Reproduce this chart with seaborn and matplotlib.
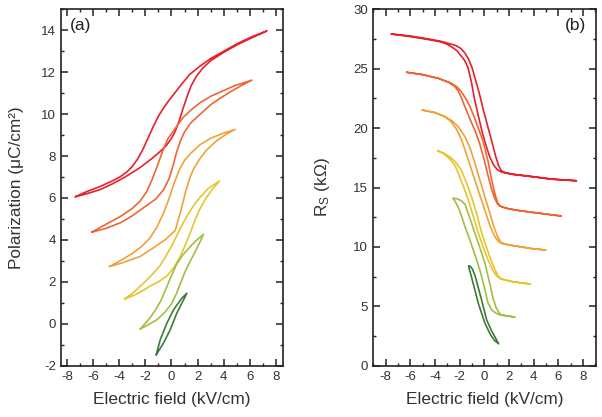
import numpy as np
import pandas as pd
import matplotlib
matplotlib.use('Agg')
import matplotlib.pyplot as plt
import seaborn as sns
from matplotlib.ticker import MultipleLocator

# ========== DATOS ==========
# colores de los lazos (de mayor a menor campo)
colores = ['#e8202c', '#ee6633', '#f0a23a', '#e6c52e', '#9fbf45', '#3e7b38']

# (a) Polarizacion: rama superior y rama inferior de cada lazo
pa_E_sup = [
    [-7.35, -6.5, -5.45, -4.5, -3.9, -3.4, -3.0, -2.6, -2.2, -1.8, -1.4, -1.0, -0.6, -0.2, 0.3, 0.8, 1.4, 2.2, 3.0, 4.0, 5.0, 6.0, 7.3],
    [-6.1, -5.0, -3.9, -3.0, -2.4, -1.9, -1.5, -1.1, -0.7, -0.3, 0.2, 0.9, 1.5, 2.2, 3.0, 3.9, 4.8, 6.15],
    [-4.74, -3.8, -3.0, -2.3, -1.7, -1.12, -0.6, -0.2, 0.2, 0.6, 1.0, 1.5, 2.2, 3.0, 4.0, 4.87],
    [-3.59, -3.0, -2.4, -1.9, -1.4, -0.9, -0.45, 0.0, 0.4, 0.8, 1.2, 1.7, 2.2, 2.8, 3.67],
    [-2.39, -2.0, -1.6, -1.2, -0.8, -0.4, 0.0, 0.4, 0.85, 1.4, 1.9, 2.45],
    [-1.17, -0.86, -0.35, 0.16, 0.79, 1.18],
]
pa_P_sup = [
    [6.06, 6.3, 6.55, 6.82, 7.02, 7.25, 7.5, 7.85, 8.3, 8.85, 9.4, 9.9, 10.3, 10.65, 11.05, 11.45, 11.9, 12.3, 12.65, 13.0, 13.35, 13.65, 13.97],
    [4.37, 4.75, 5.12, 5.5, 5.85, 6.3, 6.85, 7.5, 8.2, 8.8, 9.25, 9.85, 10.2, 10.55, 10.85, 11.1, 11.35, 11.62],
    [2.73, 3.05, 3.35, 3.68, 4.05, 4.6, 5.3, 5.95, 6.7, 7.35, 7.8, 8.15, 8.55, 8.85, 9.1, 9.27],
    [1.18, 1.45, 1.78, 2.08, 2.4, 2.75, 3.2, 3.7, 4.2, 4.7, 5.15, 5.65, 6.05, 6.45, 6.81],
    [-0.25, 0.02, 0.32, 0.68, 1.12, 1.7, 2.3, 2.85, 3.27, 3.66, 3.98, 4.27],
    [-1.48, -0.76, 0.03, 0.67, 1.22, 1.46],
]
pa_E_inf = [
    [-7.35, -6.5, -5.45, -4.5, -3.5, -2.4, -1.5, -0.9, -0.4, 0.0, 0.3, 0.6, 0.9, 1.2, 1.5, 1.9, 2.4, 3.0, 4.0, 5.0, 6.0, 7.3],
    [-6.1, -5.0, -3.9, -3.0, -2.0, -1.2, -0.6, -0.2, 0.1, 0.4, 0.7, 1.0, 1.5, 2.2, 3.0, 3.7, 4.5, 5.3, 6.15],
    [-4.74, -3.8, -2.4, -1.2, -0.4, 0.28, 0.7, 1.1, 1.4, 1.7, 2.2, 2.7, 3.5, 4.2, 4.87],
    [-3.59, -2.8, -2.2, -1.63, -1.0, -0.35, 0.2, 0.66, 1.05, 1.43, 1.8, 2.19, 2.6, 3.1, 3.67],
    [-2.39, -1.8, -1.12, -0.5, 0.0, 0.35, 0.7, 1.05, 1.4, 1.7, 2.1, 2.45],
    [-1.17, -0.61, -0.1, 0.41, 0.92, 1.18],
]
pa_P_inf = [
    [6.06, 6.2, 6.4, 6.68, 7.02, 7.45, 7.88, 8.2, 8.5, 8.85, 9.2, 9.7, 10.3, 10.85, 11.35, 11.8, 12.2, 12.55, 12.95, 13.3, 13.6, 13.97],
    [4.37, 4.55, 4.82, 5.15, 5.6, 5.95, 6.4, 6.9, 7.5, 8.2, 8.75, 9.15, 9.6, 10.0, 10.45, 10.75, 11.06, 11.35, 11.62],
    [2.73, 2.9, 3.21, 3.7, 4.05, 4.45, 5.35, 6.35, 6.95, 7.4, 7.9, 8.3, 8.75, 9.05, 9.27],
    [1.18, 1.38, 1.58, 1.8, 2.0, 2.28, 2.7, 3.2, 3.75, 4.32, 4.95, 5.5, 5.95, 6.4, 6.81],
    [-0.25, -0.05, 0.19, 0.55, 0.95, 1.4, 1.95, 2.5, 2.95, 3.3, 3.8, 4.27],
    [-1.48, -0.92, -0.29, 0.51, 1.14, 1.46],
]

# (b) Resistencia Rs: rama derecha y rama izquierda de cada lazo
rb_E_der = [
    [-7.54, -6.0, -4.5, -3.5, -2.8, -2.3, -1.9, -1.6, -1.3, -1.0, -0.7, -0.4, -0.1, 0.29, 0.6, 0.9, 1.15, 1.38, 1.7, 2.3, 4.0, 5.5, 7.46],
    [-6.3, -5.0, -3.73, -2.65, -2.2, -1.9, -1.57, -1.2, -0.85, -0.49, -0.1, 0.3, 0.6, 0.85, 1.05, 1.24, 1.6, 2.0, 2.86, 4.49, 6.24],
    [-5.03, -4.0, -3.19, -2.6, -2.1, -1.57, -1.15, -0.76, -0.35, 0.05, 0.43, 0.8, 1.1, 1.38, 1.8, 2.86, 3.9, 4.97],
    [-3.79, -3.2, -2.7, -2.3, -1.84, -1.45, -1.03, -0.6, -0.2, 0.16, 0.5, 0.85, 1.1, 1.38, 1.8, 2.32, 3.0, 3.73],
    [-2.52, -2.2, -1.9, -1.57, -1.2, -0.76, -0.35, 0.05, 0.4, 0.7, 0.95, 1.2, 1.38, 1.9, 2.46],
    [-1.25, -1.12, -0.95, -0.76, -0.5, -0.22, 0.19, 0.6, 0.9, 1.16],
]
rb_R_der = [
    [27.92, 27.75, 27.5, 27.3, 27.1, 26.95, 26.7, 26.35, 25.85, 25.1, 24.0, 22.9, 21.6, 20.1, 18.9, 17.7, 16.85, 16.4, 16.25, 16.12, 15.9, 15.7, 15.57],
    [24.7, 24.5, 24.19, 23.77, 23.45, 23.1, 22.6, 21.9, 21.0, 20.0, 18.9, 17.2, 15.6, 14.5, 13.8, 13.45, 13.3, 13.2, 13.05, 12.83, 12.6],
    [21.52, 21.3, 20.96, 20.6, 20.1, 19.28, 18.3, 17.04, 15.6, 14.2, 12.9, 11.6, 10.8, 10.35, 10.2, 10.02, 9.85, 9.74],
    [18.1, 17.85, 17.5, 17.1, 16.4, 15.4, 14.2, 12.7, 11.1, 10.0, 9.0, 8.1, 7.6, 7.3, 7.2, 7.07, 6.97, 6.88],
    [14.09, 14.05, 13.9, 13.6, 12.5, 11.14, 9.9, 8.62, 7.1, 5.7, 4.9, 4.45, 4.27, 4.18, 4.1],
    [8.39, 8.35, 8.1, 7.6, 6.6, 5.53, 3.85, 2.9, 2.35, 1.84],
]
rb_E_izq = [
    [-7.54, -6.0, -4.5, -3.5, -3.0, -2.6, -2.2, -1.9, -1.6, -1.33, -1.05, -0.79, -0.5, -0.16, 0.15, 0.43, 0.75, 1.05, 1.38, 2.3, 4.0, 5.5, 7.46],
    [-6.3, -5.0, -3.73, -2.9, -2.4, -2.1, -1.84, -1.5, -1.1, -0.76, -0.38, 0.0, 0.3, 0.55, 0.8, 1.05, 1.24, 2.0, 2.86, 4.49, 6.24],
    [-5.03, -4.0, -3.19, -2.7, -2.25, -1.84, -1.45, -1.03, -0.6, -0.22, 0.1, 0.45, 0.8, 1.1, 1.38, 2.1, 2.86, 3.9, 4.97],
    [-3.79, -3.3, -2.8, -2.4, -2.11, -1.7, -1.3, -0.9, -0.5, -0.1, 0.3, 0.7, 1.0, 1.3, 1.8, 2.32, 3.0, 3.73],
    [-2.52, -2.35, -2.15, -1.98, -1.6, -1.17, -0.75, -0.36, 0.0, 0.29, 0.6, 0.9, 1.2, 1.9, 2.46],
    [-1.25, -1.22, -1.1, -0.8, -0.49, 0.05, 0.5, 0.85, 1.16],
]
rb_R_izq = [
    [27.92, 27.7, 27.45, 27.25, 27.05, 26.8, 26.5, 26.1, 25.7, 25.1, 23.9, 22.4, 21.1, 19.6, 18.5, 17.6, 16.9, 16.5, 16.3, 16.1, 15.9, 15.7, 15.57],
    [24.7, 24.5, 24.19, 23.85, 23.5, 23.1, 22.5, 21.6, 20.6, 19.8, 18.7, 17.3, 16.0, 15.0, 14.2, 13.65, 13.45, 13.2, 13.05, 12.83, 12.6],
    [21.52, 21.3, 20.96, 20.55, 19.9, 19.0, 17.8, 16.47, 15.1, 13.9, 12.9, 11.8, 10.95, 10.5, 10.3, 10.15, 10.02, 9.85, 9.74],
    [18.1, 17.85, 17.4, 16.9, 16.2, 15.1, 13.95, 12.6, 11.2, 10.0, 8.9, 8.0, 7.55, 7.32, 7.18, 7.07, 6.97, 6.88],
    [14.09, 13.8, 13.4, 13.0, 11.8, 10.58, 9.3, 8.05, 6.6, 5.3, 4.7, 4.45, 4.3, 4.18, 4.1],
    [8.39, 8.1, 7.7, 6.5, 5.25, 3.57, 2.6, 2.1, 1.84],
]


# ========== TABLAS (un lazo cerrado por curva) ==========
def armar_lazos(E_a, Y_a, E_b, Y_b, col):
    filas = []
    for i in range(len(E_a)):
        E = list(E_b[i]) + list(E_a[i])[::-1]
        Y = list(Y_b[i]) + list(Y_a[i])[::-1]
        filas.append(pd.DataFrame({'E': E, col: Y, 'lazo': str(i)}))
    return pd.concat(filas, ignore_index=True)


df_a = armar_lazos(pa_E_sup, pa_P_sup, pa_E_inf, pa_P_inf, 'P')
df_b = armar_lazos(rb_E_der, rb_R_der, rb_E_izq, rb_R_izq, 'R')
paleta = {str(i): c for i, c in enumerate(colores)}

# ========== ESTILO ==========
sns.set_style('ticks')
plt.rcParams['font.family'] = ['Liberation Sans', 'DejaVu Sans']
plt.rcParams['mathtext.default'] = 'regular'
plt.rcParams['axes.unicode_minus'] = False

fig = plt.figure(figsize=(6.02, 4.17), dpi=100)
ax1 = fig.add_axes([0.1013, 0.1230, 0.3693, 0.8547])
ax2 = fig.add_axes([0.6191, 0.1230, 0.3709, 0.8547])

sns.lineplot(data=df_a, x='E', y='P', hue='lazo', palette=paleta, estimator=None,
             sort=False, legend=False, lw=1.2, ax=ax1)
sns.lineplot(data=df_b, x='E', y='R', hue='lazo', palette=paleta, estimator=None,
             sort=False, legend=False, lw=1.2, ax=ax2)

ax1.set_xlim(-8.45, 8.55)
ax1.set_ylim(-2, 15)
ax1.xaxis.set_major_locator(MultipleLocator(2))
ax1.xaxis.set_minor_locator(MultipleLocator(1))
ax1.yaxis.set_major_locator(MultipleLocator(2))
ax1.yaxis.set_minor_locator(MultipleLocator(1))
ax1.set_yticks(np.arange(-2, 15, 2))

ax2.set_xlim(-9.05, 9.05)
ax2.set_ylim(0, 30)
ax2.xaxis.set_major_locator(MultipleLocator(2))
ax2.xaxis.set_minor_locator(MultipleLocator(1))
ax2.yaxis.set_major_locator(MultipleLocator(5))
ax2.yaxis.set_minor_locator(MultipleLocator(2.5))
ax2.set_xticks(np.arange(-8, 9, 2))

for ax in (ax1, ax2):
    ax.tick_params(which='both', direction='in', top=True, right=True, colors='#222222',
                   labelcolor='#333333')
    ax.tick_params(which='major', length=5, width=1.1, labelsize=9.5)
    ax.tick_params(which='minor', length=2.5, width=1.0)
    for s in ax.spines.values():
        s.set_linewidth(1.2)
        s.set_color('#222222')
    ax.set_xlabel('Electric field (kV/cm)', fontsize=12.4, color='#333333')
    ax.xaxis.set_label_coords(0.5, -0.075)
    ax.xaxis.label.set_va('top')

ax1.set_ylabel('Polarization (μC/cm²)', fontsize=12.4, color='#333333')
ax1.yaxis.set_label_coords(-0.165, 0.5)
ax2.set_ylabel('R$_S$ (kΩ)', fontsize=12.4, color='#333333')
ax2.yaxis.set_label_coords(-0.182, 0.5)

ax1.text(0.04, 0.975, '(a)', transform=ax1.transAxes, ha='left', va='top', fontsize=12.5, color='#222222')
ax2.text(0.955, 0.975, '(b)', transform=ax2.transAxes, ha='right', va='top', fontsize=12.5, color='#222222')

fig.savefig('out.png', dpi=100)
